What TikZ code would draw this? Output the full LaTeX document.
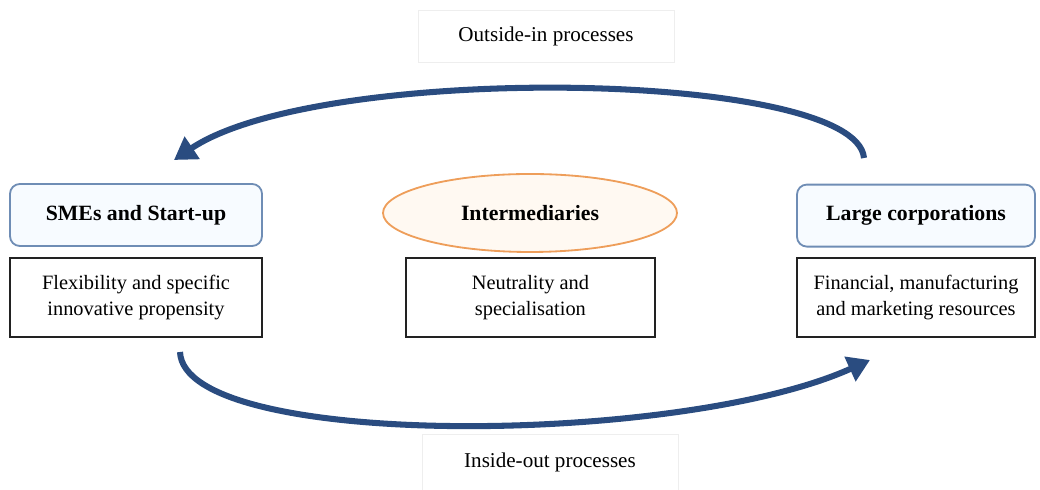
\documentclass[tikz,border=0pt]{standalone}
\usepackage{fontspec}
\setmainfont{Liberation Serif}
\usetikzlibrary{arrows.meta, shapes.geometric}
\definecolor{actorfill}{HTML}{F7FBFF}
\definecolor{actorborder}{HTML}{6F8DB5}
\definecolor{midfill}{HTML}{FFF9F2}
\definecolor{midborder}{HTML}{EE9E5A}
\definecolor{flowblue}{HTML}{2A4C80}
\definecolor{darkline}{HTML}{222222}
\definecolor{faintline}{HTML}{EEEEEE}
\tikzset{
  card/.style={
    rectangle,
    align=center,
    draw=darkline,
    line width=0.9pt,
    font=\fontsize{14.5}{18}\selectfont
  },
  actor/.style={card, rounded corners=7pt, fill=actorfill, draw=actorborder, line width=1.3pt,
    minimum height=1.55cm, font=\fontsize{15.5}{18}\selectfont\bfseries},
  trait/.style={card, fill=white, minimum height=1.975cm},
  broker/.style={ellipse, fill=midfill, draw=midborder, line width=1.3pt,
    minimum width=7.35cm, minimum height=1.95cm, font=\fontsize{15.5}{18}\selectfont\bfseries},
  caption/.style={rectangle, draw=faintline, line width=0.6pt, minimum width=6.4cm,
    minimum height=1.3cm, font=\fontsize{15}{18}\selectfont},
  flow/.style={-{Triangle[length=5.5mm, width=6.5mm]}, line width=4.3pt, draw=flowblue}
}

\begin{document}
\begin{tikzpicture}
\useasboundingbox (0,0) rectangle (26,12.25);

% Process labels.
\node[caption] (outin) at (13.65,11.35) {Outside-in processes};
\node[caption, minimum height=1.4cm] (inout) at (13.75,0.68) {Inside-out processes};

% Actors.
\node[actor, minimum width=6.3cm] (smes) at (3.4,6.875) {SMEs and Start-up};
\node[trait, minimum width=6.3cm] (flex) at (3.4,4.81) {Flexibility and specific\\innovative propensity};

\node[broker] (inter) at (13.25,6.925) {Intermediaries};
\node[trait, minimum width=6.225cm] (neutral) at (13.26,4.81) {Neutrality and\\specialisation};

\node[actor, minimum width=5.95cm] (large) at (22.9,6.86) {Large corporations};
\node[trait, minimum width=5.95cm] (fin) at (22.9,4.81) {Financial, manufacturing\\and marketing resources};

% Arc ends above and below the actor boxes.
\coordinate (topstart) at (21.6,8.3);
\coordinate (topend) at (4.35,8.25);
\coordinate (botstart) at (4.5,3.45);
\coordinate (botend) at (21.75,3.25);

% Main flow.
\draw[flow] (topstart) .. controls (21.4,10.5) and (8,10.7) .. (topend);
\draw[flow] (botstart) .. controls (4.6,1.0) and (17,1.1) .. (botend);

\end{tikzpicture}
\end{document}
